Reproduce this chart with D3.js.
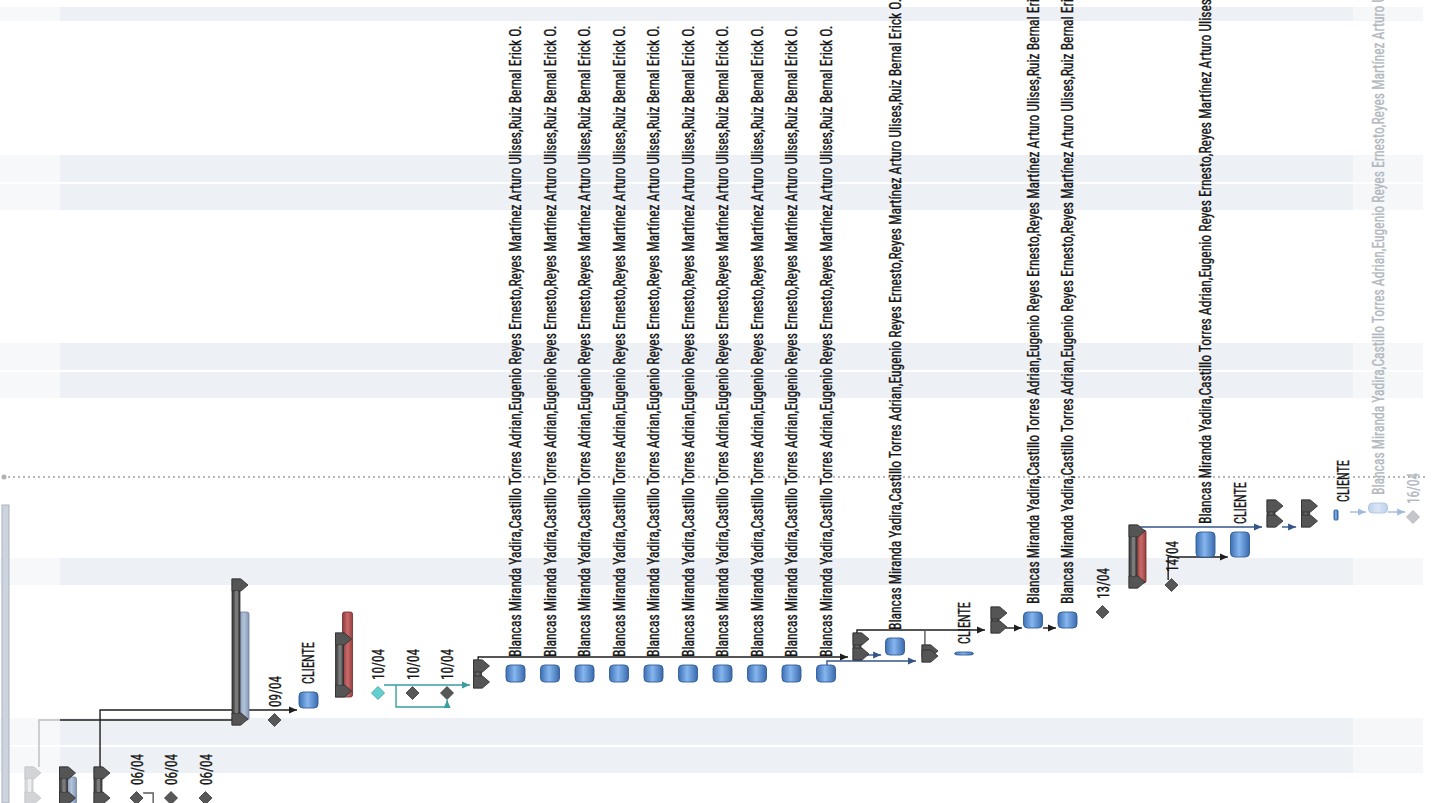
<!DOCTYPE html>
<html><head><meta charset="utf-8">
<script src="https://cdn.jsdelivr.net/npm/d3@7"></script>
<style>html,body{margin:0;padding:0;background:#fff;overflow:hidden}svg{display:block}</style>
</head><body><svg id="c" width="1438" height="803"></svg>
<script>
// ---------- data (time in chart units, rows by index) ----------
const LONG = "Blancas Miranda Yadira,Castillo Torres Adrian,Eugenio Reyes Ernesto,Reyes Martínez Arturo Ulises,Ruiz Bernal Erick O.";
const shadedDays = [[1.35,2.65],[2.75,4.1],[10.75,12.1],[20.1,21.4],[21.5,22.85],[29.5,30.8],[30.9,32.25],[38.95,39.65]];
const statusDate = 16.15;
// summary bars: [row, start, finish, style]
const summaryBars = [[0,-0.2,1.65,"faded"],[1,-0.2,1.65,"n"],[2,-0.2,1.65,"n"],[6,3.75,11.05,"n"],[9,5.15,8.35,"n"],[13,5.6,7.0,"n"],[24,7.0,8.35,"n"],[26,6.9,7.75,"n"],[28,8.35,9.65,"n"],[32,10.6,13.75,"n"],[36,13.65,15.0,"n"],[37,13.65,15.0,"n"]];
// baseline bars: [row, start, finish, kind]
const baselineBars = [[1,-0.2,1.15,"blue"],[6,4.0,9.4,"blue"],[9,5.15,9.4,"red"],[32,10.85,13.5,"red"]];
// task bars: [row, start, finish, label, style]
const taskBars = [
  [8,4.6,5.4,"CLIENTE","n"],
  [14,5.9,6.75,LONG,"n"],[15,5.9,6.75,LONG,"n"],[16,5.9,6.75,LONG,"n"],[17,5.9,6.75,LONG,"n"],[18,5.9,6.75,LONG,"n"],
  [19,5.9,6.75,LONG,"n"],[20,5.9,6.75,LONG,"n"],[21,5.9,6.75,LONG,"n"],[22,5.9,6.75,LONG,"n"],[23,5.9,6.75,LONG,"n"],
  [25,7.25,8.1,LONG,"n"],
  [27,7.25,7.4,"CLIENTE","n"],
  [29,8.6,9.4,LONG,"n"],[30,8.6,9.4,LONG,"n"],
  [34,12.15,13.4,LONG,"n"],
  [35,12.15,13.4,"CLIENTE","n"],
  [38,14.0,14.5,"CLIENTE","thin"],
  [39,14.35,14.85,LONG,"faded"]
];
// milestones: [row, date, label, style]
const milestones = [[3,0.1,"06/04","n"],[4,0.1,"06/04","n"],[5,0.1,"06/04","n"],[7,4.0,"09/04","n"],[10,5.35,"10/04","cyan"],[11,5.35,"10/04","n"],[12,5.35,"10/04","n"],[31,9.4,"13/04","n"],[33,10.75,"14/04","n"],[40,14.15,"16/04","faded"]];
// links: points as [row position, time], color key, arrow
const links = [
  {pts:[[0.26,1.65],[0.26,4.0],[0.87,4.0]], c:"gray", a:false},
  {pts:[[0.87,4.0],[5.86,4.0]], c:"black", a:false},
  {pts:[[2.03,1.35],[2.03,4.5],[7.74,4.5]], c:"black", a:true},
  {pts:[[10.26,5.75],[12.75,5.75]], c:"teal", a:true},
  {pts:[[10.61,5.75],[10.61,4.65],[12.09,4.65],[12.09,5.0]], c:"teal", a:true},
  {pts:[[12.99,6.9],[12.99,7.15],[23.71,7.15]], c:"black", a:true},
  {pts:[[23.1,6.7],[23.1,6.95],[25.68,6.95]], c:"blue", a:true},
  {pts:[[24.14,7.25],[24.67,7.25]], c:"blue", a:true},
  {pts:[[23.97,8.35],[23.97,8.5],[27.68,8.5]], c:"black", a:true},
  {pts:[[25.94,7.65],[25.94,8.5]], c:"dgray", a:false},
  {pts:[[28.29,8.6],[28.75,8.6]], c:"black", a:true},
  {pts:[[29.36,8.6],[29.74,8.6]], c:"black", a:true},
  {pts:[[31.88,13.65],[35.71,13.65]], c:"blue", a:true},
  {pts:[[36.29,13.65],[36.7,13.65]], c:"blue", a:true},
  {pts:[[32.99,11.0],[32.99,12.15],[34.72,12.15]], c:"black", a:true},
  {pts:[[38.26,14.4],[38.72,14.4]], c:"faded", a:true},
  {pts:[[39.36,14.4],[39.86,14.4]], c:"faded", a:true},
  {pts:[[3.28,0.35],[3.57,0.35],[3.57,-0.2]], c:"dgray", a:false}
];

// ---------- scales ----------
const W = 1438, H = 803;
const rowX = d3.scaleLinear().domain([0, 40]).range([30, 1410]);
const y = d3.scaleLinear().domain([0, 40]).range([800, 0]);
const svg = d3.select("#c");
const defs = svg.append("defs");
const FONT = "'Liberation Sans Narrow','Arial Narrow','Roboto Condensed','DejaVu Sans Condensed',sans-serif";

const linkColors = {black:"#1e1e1e", blue:"#34558a", teal:"#3a9ea0", gray:"#bdbdbd", dgray:"#5a5a5a", faded:"#9fbadc"};
Object.entries(linkColors).forEach(([k,c]) => {
  defs.append("marker").attr("id","ar-"+k).attr("viewBox","0 0 8 8").attr("refX",8).attr("refY",4)
    .attr("markerWidth",8).attr("markerHeight",8).attr("markerUnits","userSpaceOnUse").attr("orient","auto")
    .append("path").attr("d","M0,0.5L8,4L0,7.5Z").attr("fill",c);
});
function grad(id, stops){
  const g = defs.append("linearGradient").attr("id",id).attr("x1","0").attr("x2","1").attr("y1","0").attr("y2","0");
  stops.forEach(([o,c]) => g.append("stop").attr("offset",o).attr("stop-color",c));
}
grad("gTask",[[0,"#3d6fb4"],[0.45,"#86b6ee"],[1,"#3a6aad"]]);
grad("gTaskF",[[0,"#bcd0ea"],[0.5,"#dbe7f6"],[1,"#bcd0ea"]]);
grad("gSum",[[0,"#3a3a3a"],[0.5,"#6e6e6e"],[1,"#404040"]]);
grad("gRed",[[0,"#8e3a3a"],[0.5,"#c86a6a"],[1,"#9a4040"]]);
grad("gBlue",[[0,"#8498b6"],[0.5,"#b3c3d8"],[1,"#8498b6"]]);

// rotated, length-fitted label
function label(parent, x0, y0, txt, target, color){
  const t = parent.append("text")
    .attr("font-family",FONT).attr("font-size",17)
    .attr("fill",color).attr("stroke",color).attr("stroke-width",0.35)
    .text(txt);
  const L = t.node().getComputedTextLength() || target;
  t.attr("transform",`translate(${x0},${y0}) rotate(-90) scale(${target/L},1)`);
  return t;
}

// ---------- background ----------
const bg = svg.append("g");
bg.selectAll("rect.day").data(shadedDays).join("rect").attr("class","day")
  .attr("x",0).attr("width",1423).attr("y",d=>y(d[1])).attr("height",d=>y(d[0])-y(d[1])).attr("fill","#edf0f4");
bg.append("rect").attr("x",0).attr("y",0).attr("width",60).attr("height",H).attr("fill","#fff").attr("opacity",0.5);
bg.append("rect").attr("x",1353).attr("y",0).attr("width",70).attr("height",H).attr("fill","#fff").attr("opacity",0.45);
bg.append("rect").attr("x",2).attr("y",y(14.75)).attr("width",7).attr("height",H-y(14.75)).attr("fill","#cdd4de").attr("stroke","#aab3c0").attr("stroke-width",1);
bg.append("line").attr("x1",8).attr("x2",1425).attr("y1",y(statusDate)).attr("y2",y(statusDate))
  .attr("stroke","#a0a0a0").attr("stroke-width",1.3).attr("stroke-dasharray","2,3");
bg.append("circle").attr("cx",4).attr("cy",y(statusDate)).attr("r",2.5).attr("fill","#b0b0b0");

// ---------- links ----------
const lg = svg.append("g");
const line = d3.line().x(p=>rowX(p[0])).y(p=>y(p[1]));
lg.selectAll("path").data(links).join("path").attr("d",d=>line(d.pts)).attr("fill","none")
  .attr("stroke",d=>linkColors[d.c]).attr("stroke-width",1.4)
  .attr("marker-end",d=>d.a ? `url(#ar-${d.c})` : null);

// ---------- baselines ----------
const g = svg.append("g");
g.selectAll("rect.base").data(baselineBars).join("rect").attr("class","base")
  .attr("x",d=>rowX(d[0])+2).attr("width",10)
  .attr("y",d=>y(d[2])).attr("height",d=>y(d[1])-y(d[2])).attr("rx",2)
  .attr("fill",d=>d[3]==="red"?"url(#gRed)":"url(#gBlue)")
  .attr("stroke",d=>d[3]==="red"?"#6e2a2a":"#6f829e").attr("stroke-width",0.8);

// ---------- summaries ----------
summaryBars.forEach(([r,s,f,st]) => {
  const cx = rowX(r), yT = y(f), yB = y(s);
  const fill = st==="faded" ? "#d8dadd" : "url(#gSum)";
  const stroke = st==="faded" ? "#c2c5ca" : "#2e2e2e";
  const sg = g.append("g");
  sg.append("rect").attr("x",cx-5).attr("y",yT).attr("width",8).attr("height",yB-yT).attr("fill",fill).attr("stroke",stroke).attr("stroke-width",0.8);
  const capT = [[cx-5,yT],[cx+4,yT],[cx+11,yT+6],[cx+4,yT+12],[cx-5,yT+12]];
  const capB = [[cx-5,yB],[cx+4,yB],[cx+11,yB-6],[cx+4,yB-12],[cx-5,yB-12]];
  [capT,capB].forEach(p => sg.append("polygon").attr("points",p.map(q=>q.join(",")).join(" "))
    .attr("fill",st==="faded"?"#d2d4d8":"#555").attr("stroke",stroke).attr("stroke-width",0.8));
  if (yB-yT > 30) sg.append("rect").attr("x",cx-2).attr("y",yT+12).attr("width",3).attr("height",yB-yT-24)
    .attr("fill",st==="faded"?"#eceef0":"#7a7a7a");
});

// ---------- tasks ----------
taskBars.forEach(([r,s,f,txt,st]) => {
  const cx = rowX(r), yT = y(f), yB = y(s);
  const w = st==="thin" ? 4 : 19;
  g.append("rect").attr("x",cx-7).attr("y",yT).attr("width",w).attr("height",Math.max(3,yB-yT)).attr("rx",st==="thin"?1:4)
    .attr("fill",st==="faded"?"url(#gTaskF)":"url(#gTask)")
    .attr("stroke",st==="faded"?"#aec4e0":"#2f5c96").attr("stroke-width",0.9);
  label(g, cx+8, yT-8, txt, txt.length > 20 ? 632 : 42, st==="faded" ? "#b3b8c0" : "#161616");
});

// ---------- milestones ----------
milestones.forEach(([r,t,txt,st]) => {
  const cx = rowX(r)+3, cy = y(t), s = 6.5;
  g.append("polygon").attr("points",[[cx,cy-s],[cx+s,cy],[cx,cy+s],[cx-s,cy]].map(q=>q.join(",")).join(" "))
    .attr("fill",st==="cyan"?"#63cfcf":st==="faded"?"#c4c6ca":"#575757")
    .attr("stroke",st==="cyan"?"#2f9b9b":st==="faded"?"#b0b3b8":"#3a3a3a").attr("stroke-width",0.8);
  label(g, rowX(r)+9, cy-13, txt, 31, st==="faded" ? "#b3b8c0" : "#161616");
});
</script></body></html>
